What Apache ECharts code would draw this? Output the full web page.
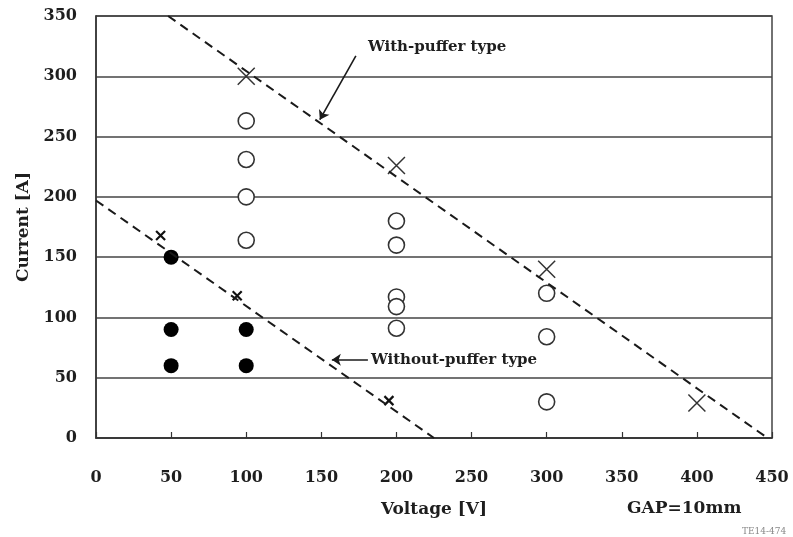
<!DOCTYPE html>
<html>
<head>
<meta charset="utf-8">
<script src="https://cdn.jsdelivr.net/npm/echarts@6/dist/echarts.min.js"></script>
<style>
  html, body { margin: 0; padding: 0; background: #ffffff; }
  #chart { width: 793px; height: 537px; }
</style>
</head>
<body>
<div id="chart"></div>
<script>
// Axis ticks
const voltageTicks = [0, 50, 100, 150, 200, 250, 300, 350, 400, 450];
const currentTicks = [0, 50, 100, 150, 200, 250, 300, 350];

// Measured points [voltage V, current A]
const openCircles = [
  [100, 263], [100, 231], [100, 200], [100, 164],
  [200, 180], [200, 160], [200, 117], [200, 109], [200, 91],
  [300, 120], [300, 84], [300, 30]
];
const filledCircles = [
  [50, 150], [50, 90], [100, 90], [50, 60], [100, 60]
];
const withPufferLimits = [[100, 300], [200, 226], [300, 140], [400, 29]];
const withoutPufferLimits = [[43, 168], [94, 118], [195, 31]];

// Boundary lines (end points)
const withPufferBoundary = [[48, 350], [447, 0]];
const withoutPufferBoundary = [[0, 197], [225, 0]];

// Annotation arrows [tail, head] and label anchors
const withPufferArrow = [[173, 317], [149, 264]];
const withoutPufferArrow = [[181, 65], [157, 65]];
const withPufferNote = [181, 324];
const withoutPufferNote = [183, 65];

const serif = 'DejaVu Serif';
const ink = '#1e1e1e';
const xPath = 'path://M0,0L10,10M10,0L0,10';

const chart = echarts.init(document.getElementById('chart'));
chart.setOption({
  backgroundColor: '#ffffff',
  animation: false,
  grid: {
    left: 96, right: 21, top: 16, bottom: 99,
    show: true, borderColor: '#444', borderWidth: 1.5
  },
  xAxis: {
    type: 'value', min: voltageTicks[0], max: voltageTicks[voltageTicks.length - 1], interval: 50,
    axisLine: { show: true, lineStyle: { color: '#333', width: 1.5 } },
    axisTick: { show: true, inside: true, length: 6, lineStyle: { color: '#333', width: 1.2 } },
    splitLine: { show: false },
    axisLabel: { margin: 32, fontFamily: serif, fontWeight: 'bold', fontSize: 16, color: ink },
    name: 'Voltage [V]', nameLocation: 'middle', nameGap: 63,
    nameTextStyle: { fontFamily: serif, fontWeight: 'bold', fontSize: 17, color: ink }
  },
  yAxis: {
    type: 'value', min: currentTicks[0], max: currentTicks[currentTicks.length - 1], interval: 50,
    axisLine: { show: true, lineStyle: { color: '#333', width: 1.5 } },
    axisTick: { show: false },
    splitLine: { show: true, lineStyle: { color: '#444', width: 1.6 } },
    axisLabel: { margin: 19, fontFamily: serif, fontWeight: 'bold', fontSize: 16, color: ink },
    name: 'Current [A]', nameLocation: 'middle', nameGap: 64, nameRotate: 90,
    nameTextStyle: { fontFamily: serif, fontWeight: 'bold', fontSize: 17, color: ink }
  },
  graphic: [
    { type: 'text', left: 627, top: 500,
      style: { text: 'GAP=10mm', fontFamily: serif, fontWeight: 'bold', fontSize: 17, fill: ink } },
    { type: 'text', left: 742, top: 527,
      style: { text: 'TE14-474', fontFamily: serif, fontSize: 9, fill: '#888' } }
  ],
  series: [
    {
      type: 'line', data: withPufferBoundary, symbol: 'none', silent: true,
      lineStyle: { color: '#1a1a1a', width: 2, type: [9, 6] }
    },
    {
      type: 'line', data: withoutPufferBoundary, symbol: 'none', silent: true,
      lineStyle: { color: '#1a1a1a', width: 2, type: [9, 6] }
    },
    {
      type: 'scatter', data: openCircles, symbol: 'circle', symbolSize: 16,
      itemStyle: { color: '#ffffff', borderColor: '#333', borderWidth: 1.6, opacity: 1 }
    },
    {
      type: 'scatter', data: filledCircles, symbol: 'circle', symbolSize: 15,
      itemStyle: { color: '#000', opacity: 1 }
    },
    {
      type: 'scatter', data: withPufferLimits, symbol: xPath, symbolSize: 17,
      itemStyle: { color: 'none', borderColor: '#333', borderWidth: 1.5, opacity: 1 }
    },
    {
      type: 'scatter', data: withoutPufferLimits, symbol: xPath, symbolSize: 9,
      itemStyle: { color: 'none', borderColor: '#111', borderWidth: 2.2, opacity: 1 }
    },
    {
      type: 'lines', coordinateSystem: 'cartesian2d', silent: true,
      symbol: ['none', 'arrow'], symbolSize: 9,
      lineStyle: { color: '#1a1a1a', width: 1.6, opacity: 1 },
      data: [{ coords: withPufferArrow }, { coords: withoutPufferArrow }]
    },
    {
      type: 'scatter', symbolSize: 0, silent: true,
      itemStyle: { opacity: 1 },
      data: [
        { name: 'With-puffer type', value: withPufferNote },
        { name: 'Without-puffer type', value: withoutPufferNote }
      ],
      label: {
        show: true, position: 'right', distance: 0, formatter: '{b}',
        fontFamily: serif, fontWeight: 'bold', fontSize: 15, color: ink
      }
    }
  ]
});
</script>
</body>
</html>
